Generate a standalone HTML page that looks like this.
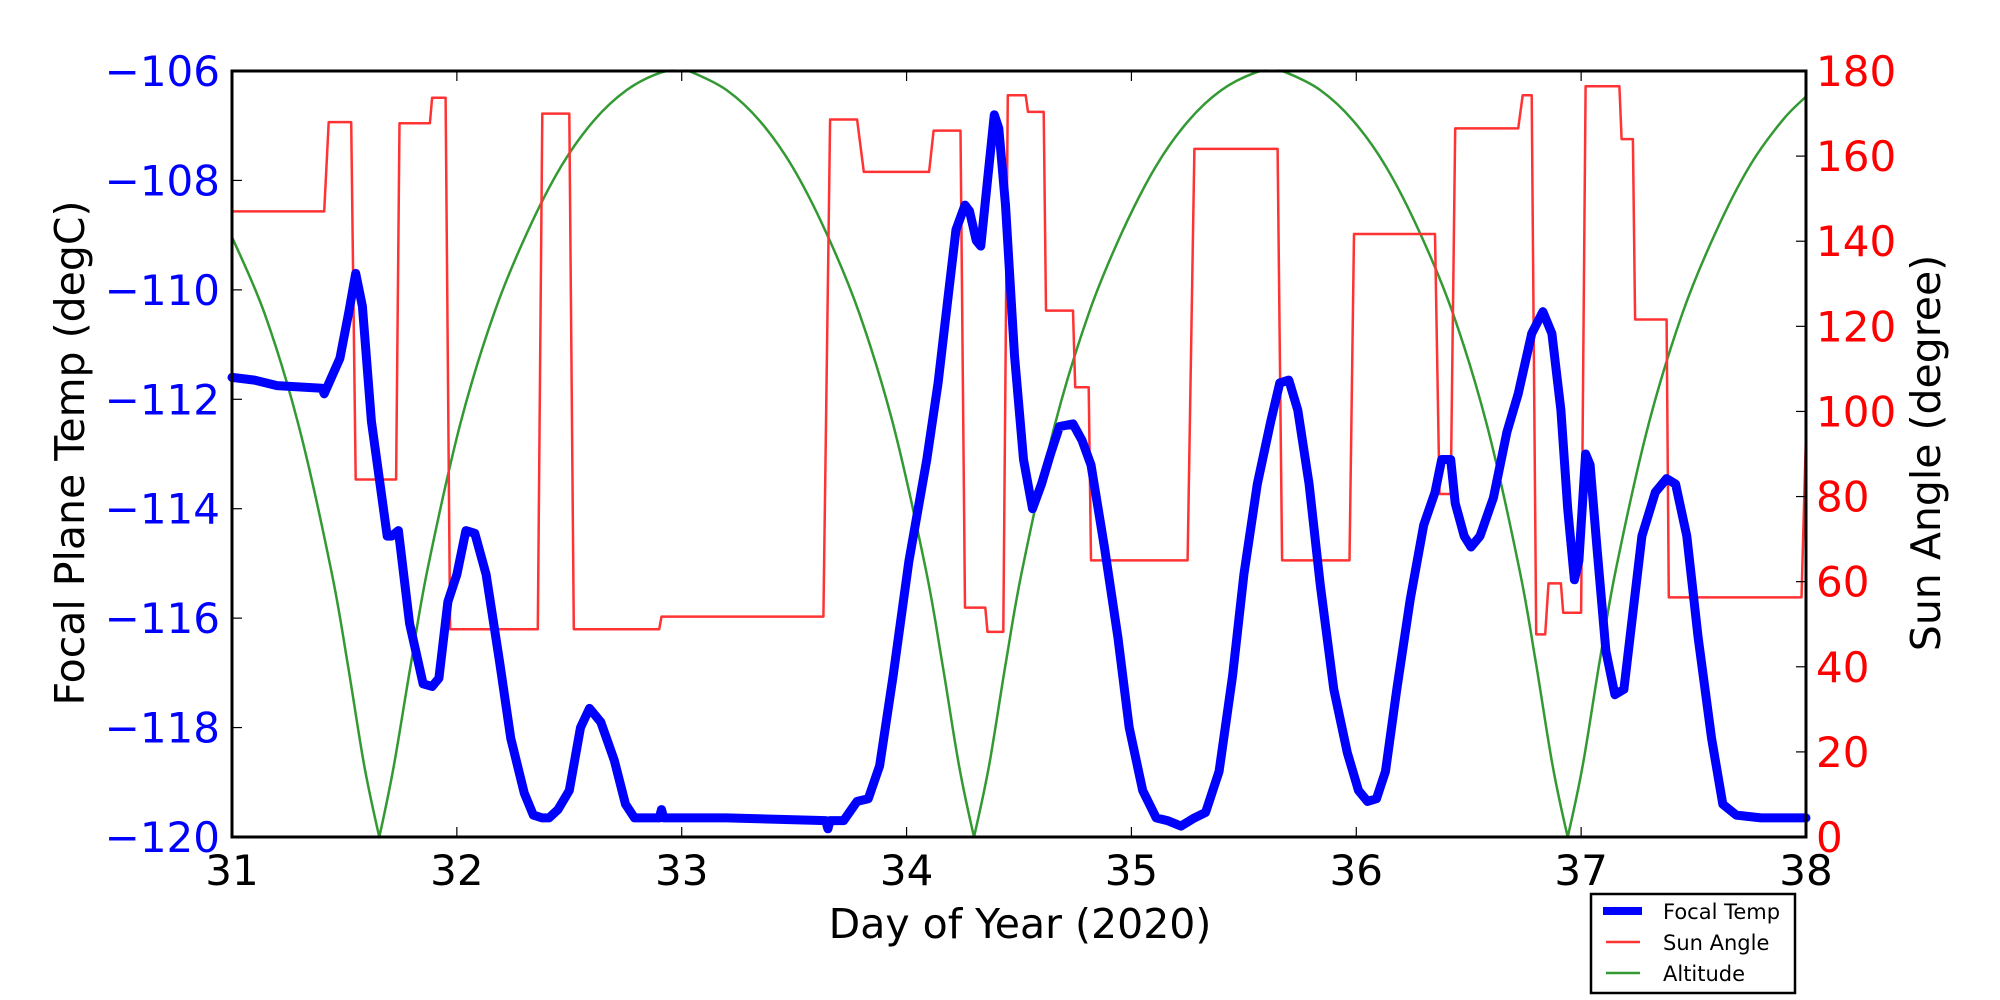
<!DOCTYPE html>
<html><head><meta charset="utf-8"><style>
html,body{margin:0;padding:0;background:#fff;}
svg{display:block;font-family:"DejaVu Sans","Liberation Sans",sans-serif;}
</style></head><body>
<svg id="chart" width="2000" height="1000" viewBox="0 0 2000 1000" xmlns="http://www.w3.org/2000/svg">
<rect x="0" y="0" width="2000" height="1000" fill="#fff"/>
<g id="plot"></g>
<g id="axes"></g>
<g id="legend">
<rect x="1591" y="894" width="204" height="99" fill="#fff" stroke="#000" stroke-width="2.5"/>
<line x1="1603" y1="911" x2="1642" y2="911" stroke="#0000ff" stroke-width="8"/>
<text x="1663" y="919" font-size="21">Focal Temp</text>
<line x1="1606" y1="942" x2="1640" y2="942" stroke="#ff3333" stroke-width="2.5"/>
<text x="1663" y="950" font-size="21">Sun Angle</text>
<line x1="1606" y1="973" x2="1640" y2="973" stroke="#339933" stroke-width="2.5"/>
<text x="1663" y="981" font-size="21">Altitude</text>
</g>
</svg>
<script>
const xTicks=[31,32,33,34,35,36,37,38];
const leftTicks=[-120,-118,-116,-114,-112,-110,-108,-106];
const rightTicks=[0,20,40,60,80,100,120,140,160,180];

const tempDays=[31.0,31.1,31.2,31.4,31.41,31.48,31.52,31.55,31.58,31.62,31.69,31.71,31.74,31.79,31.85,31.89,31.92,31.96,32.0,32.04,32.08,32.13,32.19,32.24,32.3,32.34,32.38,32.41,32.45,32.5,32.55,32.59,32.64,32.7,32.75,32.79,32.9,32.91,32.92,33.2,33.64,33.65,33.66,33.72,33.78,33.83,33.88,33.94,34.01,34.09,34.14,34.18,34.22,34.26,34.28,34.31,34.33,34.36,34.39,34.41,34.44,34.48,34.52,34.56,34.6,34.64,34.68,34.74,34.78,34.82,34.88,34.94,34.99,35.05,35.11,35.16,35.22,35.28,35.33,35.39,35.45,35.5,35.56,35.62,35.66,35.7,35.74,35.79,35.84,35.9,35.96,36.01,36.05,36.09,36.13,36.18,36.24,36.3,36.35,36.38,36.42,36.44,36.48,36.51,36.55,36.61,36.67,36.72,36.78,36.83,36.87,36.91,36.94,36.97,36.99,37.02,37.04,37.07,37.11,37.15,37.19,37.23,37.27,37.33,37.38,37.42,37.47,37.52,37.58,37.63,37.69,37.8,38.0];
const tempVals=[-111.6,-111.65,-111.75,-111.8,-111.9,-111.25,-110.4,-109.7,-110.3,-112.4,-114.5,-114.5,-114.4,-116.1,-117.2,-117.25,-117.1,-115.7,-115.2,-114.4,-114.45,-115.2,-116.8,-118.2,-119.2,-119.6,-119.65,-119.65,-119.5,-119.15,-118.0,-117.65,-117.9,-118.6,-119.4,-119.65,-119.65,-119.5,-119.65,-119.65,-119.7,-119.85,-119.7,-119.7,-119.35,-119.3,-118.7,-117.06,-114.97,-113.1,-111.7,-110.3,-108.9,-108.45,-108.56,-109.1,-109.2,-108.0,-106.8,-107.05,-108.45,-111.2,-113.1,-114.0,-113.55,-113.0,-112.5,-112.45,-112.75,-113.2,-114.7,-116.35,-118.0,-119.15,-119.65,-119.7,-119.8,-119.65,-119.55,-118.8,-117.05,-115.2,-113.55,-112.4,-111.7,-111.65,-112.2,-113.55,-115.4,-117.3,-118.46,-119.15,-119.35,-119.3,-118.8,-117.3,-115.65,-114.3,-113.7,-113.1,-113.1,-113.9,-114.5,-114.7,-114.5,-113.8,-112.6,-111.9,-110.8,-110.4,-110.8,-112.2,-114.0,-115.3,-114.95,-113.0,-113.2,-114.7,-116.6,-117.4,-117.3,-115.9,-114.5,-113.7,-113.45,-113.55,-114.5,-116.35,-118.2,-119.4,-119.6,-119.65,-119.65];

const sunDays=[31.0,31.41,31.43,31.53,31.55,31.73,31.745,31.88,31.89,31.95,31.97,32.36,32.38,32.5,32.52,32.9,32.91,33.63,33.66,33.78,33.81,34.1,34.12,34.24,34.26,34.35,34.36,34.43,34.45,34.53,34.54,34.61,34.62,34.74,34.75,34.81,34.82,35.25,35.28,35.65,35.67,35.97,35.99,36.35,36.37,36.42,36.44,36.72,36.74,36.78,36.8,36.84,36.855,36.91,36.92,37.0,37.02,37.17,37.18,37.23,37.24,37.38,37.39,37.98,38.0];
const sunVals=[147,147,168,168,84,84,167.7,167.7,173.7,173.7,48.8,48.8,170,170,48.8,48.8,51.8,51.8,168.6,168.6,156.3,156.3,166,166,53.9,53.9,48.2,48.2,174.3,174.3,170.4,170.4,123.7,123.7,105.7,105.7,65,65,161.7,161.7,65,65,141.7,141.7,80.6,80.6,166.5,166.5,174.3,174.3,47.6,47.6,59.6,59.6,52.7,52.7,176.4,176.4,164,164,121.6,121.6,56.3,56.3,94.6];

const altDays=[31.0,31.145,31.295,31.44,31.515,31.588,31.655,31.72,31.795,31.87,32.015,32.165,32.315,32.465,32.61,32.755,32.905,33.0,33.05,33.2,33.345,33.49,33.64,33.79,33.94,34.085,34.16,34.233,34.3,34.367,34.44,34.515,34.66,34.81,34.96,35.11,35.255,35.4,35.55,35.63,35.69,35.84,35.985,36.13,36.28,36.43,36.58,36.725,36.8,36.873,36.94,37.007,37.08,37.155,37.3,37.45,37.6,37.75,37.895,38.0];
const altVals=[141,123,97,63,40.5,16.8,0,16.8,40.5,63,97,123,142.3,157.7,168.4,175.5,179.6,180,179.6,175.5,168.4,157.7,142.3,123,97,63,40.5,16.8,0,16.8,40.5,63,97,123,142.3,157.7,168.4,175.5,179.6,180,179.6,175.5,168.4,157.7,142.3,123,97,63,40.5,16.8,0,16.8,40.5,63,97,123,142.3,157.7,168.4,174];

const L=232,R=1806,T=71,B=837;
const xs=d=>L+(d-31)/(38-31)*(R-L);
const yl=v=>B-(v-(-120))/14*(B-T);
const yr=v=>B-v/180*(B-T);
const NS='http://www.w3.org/2000/svg';
const plot=document.getElementById('plot'),axes=document.getElementById('axes');
function mk(tag,attrs,parent){const e=document.createElementNS(NS,tag);for(const k in attrs)e.setAttribute(k,attrs[k]);parent.appendChild(e);return e;}

const clip=mk('clipPath',{id:'clip'},plot);
mk('rect',{x:L,y:T-6,width:R-L,height:B-T+12},clip);

let pts=altDays.map((d,i)=>[xs(d),yr(altVals[i])]);
let dA='M'+pts[0][0].toFixed(1)+','+pts[0][1].toFixed(1);
for(let i=0;i<pts.length-1;i++){const p0=pts[Math.max(0,i-1)],p1=pts[i],p2=pts[i+1],p3=pts[Math.min(pts.length-1,i+2)];
const c1=[p1[0]+(p2[0]-p0[0])/6,p1[1]+(p2[1]-p0[1])/6],c2=[p2[0]-(p3[0]-p1[0])/6,p2[1]-(p3[1]-p1[1])/6];
if(altVals[i]===0){c1[0]=p1[0];c1[1]=p1[1];} if(altVals[i+1]===0){c2[0]=p2[0];c2[1]=p2[1];}
dA+=' C'+c1.map(v=>v.toFixed(1))+' '+c2.map(v=>v.toFixed(1))+' '+p2.map(v=>v.toFixed(1));}
const alt=mk('path',{d:dA,fill:'none',stroke:'#339933','stroke-width':2.5,'clip-path':'url(#clip)'},plot);



const sun=mk('path',{d:'M'+sunDays.map((d,i)=>xs(d).toFixed(1)+','+yr(sunVals[i]).toFixed(1)).join(' L'),fill:'none',stroke:'#ff3333','stroke-width':2.5,'stroke-linejoin':'round'},plot);



const temp=mk('path',{d:'M'+tempDays.map((d,i)=>xs(d).toFixed(1)+','+yl(tempVals[i]).toFixed(1)).join(' L'),fill:'none',stroke:'#0000ff','stroke-width':9,'stroke-linejoin':'round','stroke-linecap':'round'},plot);



xTicks.forEach(t=>{const x=xs(t);
mk('line',{x1:x,y1:B,x2:x,y2:B-10,stroke:'#000','stroke-width':1.2},axes);
mk('line',{x1:x,y1:T,x2:x,y2:T+10,stroke:'#000','stroke-width':1.2},axes);
const tx=mk('text',{x:x,y:B+48,'font-size':42,'text-anchor':'middle',fill:'#000'},axes);tx.textContent=t;

});
leftTicks.forEach(t=>{const y=yl(t);
mk('line',{x1:L,y1:y,x2:L+10,y2:y,stroke:'#000','stroke-width':1.2},axes);
const tx=mk('text',{x:220,y:y+15,'font-size':42,'text-anchor':'end',fill:'#0000ff'},axes);tx.textContent='\u2212'+Math.abs(t);

});
rightTicks.forEach(t=>{const y=yr(t);
mk('line',{x1:R,y1:y,x2:R-10,y2:y,stroke:'#000','stroke-width':1.2},axes);
const tx=mk('text',{x:1816,y:y+15,'font-size':42,'text-anchor':'start',fill:'#ff0000'},axes);tx.textContent=t;

});
const frame=mk('rect',{x:L,y:T,width:R-L,height:B-T,fill:'none',stroke:'#000','stroke-width':3},axes);


const xl=mk('text',{x:1020,y:938,'font-size':41,'text-anchor':'middle'},axes);xl.textContent='Day of Year (2020)';


const ylab=mk('text',{x:0,y:0,'font-size':41,'text-anchor':'middle',transform:'translate(84,453) rotate(-90)'},axes);ylab.textContent='Focal Plane Temp (degC)';


const yr2=mk('text',{x:0,y:0,'font-size':41,'text-anchor':'middle',transform:'translate(1940,453) rotate(-90)'},axes);yr2.textContent='Sun Angle (degree)';


</script>
</body></html>
